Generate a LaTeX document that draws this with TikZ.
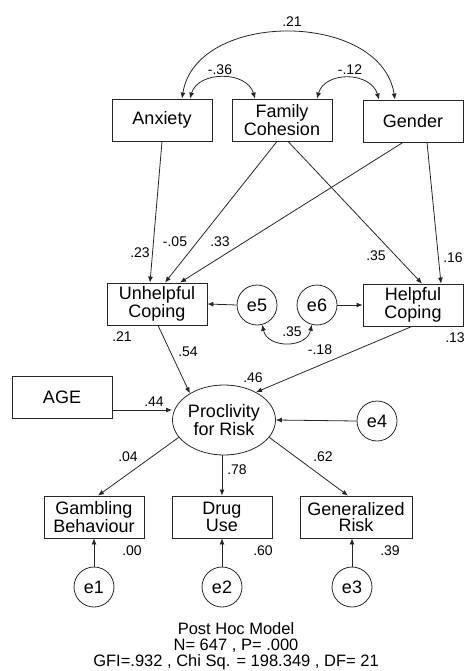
\documentclass[tikz,border=0pt]{standalone}
\usepackage{fontspec}
\setmainfont{Liberation Sans}
\usetikzlibrary{arrows.meta,shapes.geometric}
\begin{document}
\begin{tikzpicture}[x=1pt,y=-1pt,
  box/.style={draw=black!85, line width=0.8pt, rectangle, minimum width=100pt, minimum height=42pt, inner sep=0pt, align=center, font=\fontsize{18}{16.5}\selectfont},
  err/.style={draw=black!85, line width=0.8pt, circle, minimum size=40pt, inner sep=0pt, font=\fontsize{18}{17}\selectfont},
  lat/.style={draw=black!85, line width=0.8pt, ellipse, minimum width=103pt, minimum height=70pt, inner sep=0pt, align=center, font=\fontsize{18}{18}\selectfont},
  lbl/.style={inner sep=0pt, font=\fontsize{14}{14}\selectfont},
  pth/.style={draw=black!85, line width=0.8pt, -{Latex[length=6pt,width=5pt]}},
  cov/.style={draw=black!85, line width=0.8pt, {Latex[length=6pt,width=5pt]}-{Latex[length=6pt,width=5pt]}},
]
\path[use as bounding box] (0,0) rectangle (465,671);

% nodes
\node[box] (anx) at (162,120) {Anxiety};
\node[box] (fam) at (282,120) {Family\\Cohesion};
\node[box] (gen) at (413,121) {Gender};
\node[box] (unh) at (157,304) {Unhelpful\\Coping};
\node[box] (hel) at (413,305) {Helpful\\Coping};
\node[err] (e5) at (257,305) {e5};
\node[err] (e6) at (317,305) {e6};
\node[box] (age) at (62,397) {AGE};
\node[lat] (pro) at (224,420) {Proclivity\\for Risk};
\node[err] (e4) at (377,421) {e4};
\node[box] (gam) at (94,517) {Gambling\\Behaviour};
\node[box] (dru) at (222,517) {Drug\\Use};
\node[box, minimum width=112pt] (gnr) at (356,517) {Generalized\\Risk};
\node[err] (e1) at (94,587) {e1};
\node[err] (e2) at (222,587) {e2};
\node[err] (e3) at (352,587) {e3};

% correlations
\draw[cov] ([xshift=20pt]anx.north) .. controls +(14,-89) and +(-14,-89) .. ([xshift=-18pt]gen.north);
\draw[cov] ([xshift=28pt]anx.north) .. controls +(8,-28) and +(-8,-28) .. ([xshift=-27pt]fam.north);
\draw[cov] ([xshift=35pt]fam.north) .. controls +(8,-28) and +(-8,-28) .. ([xshift=-34pt]gen.north);
\draw[cov] (e5.-75) .. controls +(5,24) and +(-5,24) .. (e6.-105);

% paths
\draw[pth] (anx.south) -- ([xshift=-7pt]unh.north);
\draw[pth] ([xshift=-5pt]fam.south) -- ([xshift=8pt]unh.north);
\draw[pth] ([xshift=-10pt]gen.south) -- ([xshift=23pt]unh.north);
\draw[pth] ([xshift=6pt]fam.south) -- ([xshift=9pt]hel.north);
\draw[pth] ([xshift=14pt]gen.south) -- ([xshift=28pt]hel.north);
\draw[pth] (e5.west) -- (unh.east);
\draw[pth] (e6.east) -- (hel.west);
\draw[pth] ([xshift=1pt]unh.south) -- (pro.142);
\draw[pth] ([xshift=-1pt]hel.south) -- (pro.41);
\draw[pth] ([yshift=-13pt]age.east) -- ([yshift=10pt]pro.west);
\draw[pth] (e4.west) -- (pro.east);
\draw[pth] (pro.-159) -- ([xshift=4pt]gam.north);
\draw[pth] ([xshift=-2pt]pro.south) -- (dru.north);
\draw[pth] (pro.-21) -- ([xshift=-8pt]gnr.north);
\draw[pth] (e1.north) -- (gam.south);
\draw[pth] (e2.north) -- (dru.south);
\draw[pth] (e3.north) -- (e3.north |- gnr.south);

% labels
\node[lbl] (l1) at (292,22) {.21};
\node[lbl] (l2) at (220,70) {-.36};
\node[lbl] (l3) at (350,70) {-.12};
\node[lbl] (l4) at (140,253) {.23};
\node[lbl] (l5) at (175,242) {-.05};
\node[lbl] (l6) at (220,242) {.33};
\node[lbl] (l7) at (376,256) {.35};
\node[lbl] (l8) at (453,258) {.16};
\node[lbl] (l9) at (122,337) {.21};
\node[lbl] (l10) at (188,352) {.54};
\node[lbl] (l11) at (292,332) {.35};
\node[lbl] (l12) at (320,350) {-.18};
\node[lbl] (l13) at (455,338) {.13};
\node[lbl] (l14) at (253,378) {.46};
\node[lbl] (l15) at (154,402) {.44};
\node[lbl] (l16) at (128,457) {.04};
\node[lbl] (l17) at (237,470) {.78};
\node[lbl] (l18) at (323,457) {.62};
\node[lbl] (l19) at (132,551) {.00};
\node[lbl] (l20) at (263,551) {.60};
\node[lbl] (l21) at (390,551) {.39};

% footer
\node[inner sep=0pt, align=center, font=\fontsize{16.5}{16}\selectfont] (foot) at (236,646)
  {Post Hoc Model\\N= 647 , P= .000\\GFI=.932 , Chi Sq. = 198.349 , DF= 21};
\end{tikzpicture}
\end{document}
